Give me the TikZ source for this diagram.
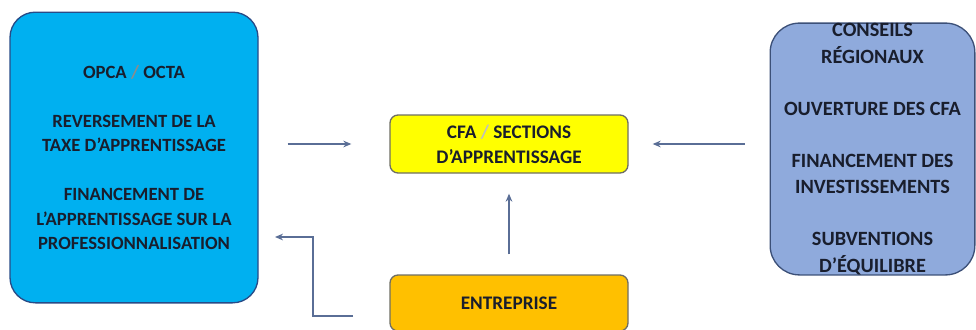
\documentclass[tikz,border=0pt]{standalone}
\usepackage{fontspec}
\setmainfont{Carlito}
\usepackage{xcolor}
\definecolor{opcaCyan}{RGB}{0,176,240}
\definecolor{opcaEdge}{RGB}{40,75,135}
\definecolor{cfaYellow}{RGB}{255,255,0}
\definecolor{entOrange}{RGB}{255,192,0}
\definecolor{regBlue}{RGB}{143,170,220}
\definecolor{regEdge}{RGB}{60,80,120}
\definecolor{boxEdge}{RGB}{110,110,100}
\definecolor{arrowSlate}{RGB}{90,110,150}
\definecolor{txtNavy}{RGB}{25,30,45}
\usetikzlibrary{positioning,arrows.meta}

\begin{document}
\begin{tikzpicture}[x=0.75pt,y=-0.75pt,
  big/.style={line width=1pt,rounded corners=19pt,align=center,text=txtNavy,
    font=\fontsize{14}{18.4}\selectfont\bfseries,inner sep=0pt},
  small/.style={draw=boxEdge,line width=1pt,rounded corners=6pt,align=center,text=txtNavy,
    font=\fontsize{14.4}{19}\selectfont\bfseries,inner sep=0pt,
    minimum width=178.5pt},
  a/.style={-{Stealth[length=6pt,width=5pt]},arrowSlate,line width=1pt}]
  \useasboundingbox (0,0) rectangle (976,329);
  \clip (0,0) rectangle (976,329);
  \node[big,draw=opcaEdge,fill=opcaCyan,minimum width=186pt,minimum height=218pt] (opca) at (134,157.5)
    {OPCA \textcolor{black!45}{/} OCTA\\[18.4pt]REVERSEMENT DE LA\\TAXE D’APPRENTISSAGE\\[18.4pt]FINANCEMENT DE\\L’APPRENTISSAGE SUR LA\\PROFESSIONNALISATION};
  \node[small,fill=cfaYellow,minimum height=43.5pt] (cfa) at (509,144)
    {CFA \textcolor{black!25}{/} SECTIONS\\D’APPRENTISSAGE};
  \node[small,fill=entOrange,minimum height=42pt] (ent) at (509,303) {ENTREPRISE};
  \node[big,draw=regEdge,fill=regBlue,rounded corners=22pt,minimum width=153.5pt,minimum height=186pt,
    font=\fontsize{15.2}{20}\selectfont\bfseries] (reg) at (872.5,149)
    {CONSEILS\\RÉGIONAUX\\[19pt]OUVERTURE DES CFA\\[19pt]FINANCEMENT DES\\INVESTISSEMENTS\\[19pt]SUBVENTIONS\\D’ÉQUILIBRE};
  \coordinate (entout) at (353,316);
  \coordinate (opcain) at (275,237);
  \draw[a,shorten <=21.75pt,shorten >=28.5pt] (opca.east |- cfa.west) -- (cfa.west);
  \draw[a,shorten <=18.75pt,shorten >=18pt] (reg.west |- cfa.east) -- (cfa.east);
  \draw[a,shorten <=15pt,shorten >=15pt] (ent.north) -- (cfa.south);
  \draw[a] (entout) -- ++(-40,0) |- (opcain);
\end{tikzpicture}
\end{document}
